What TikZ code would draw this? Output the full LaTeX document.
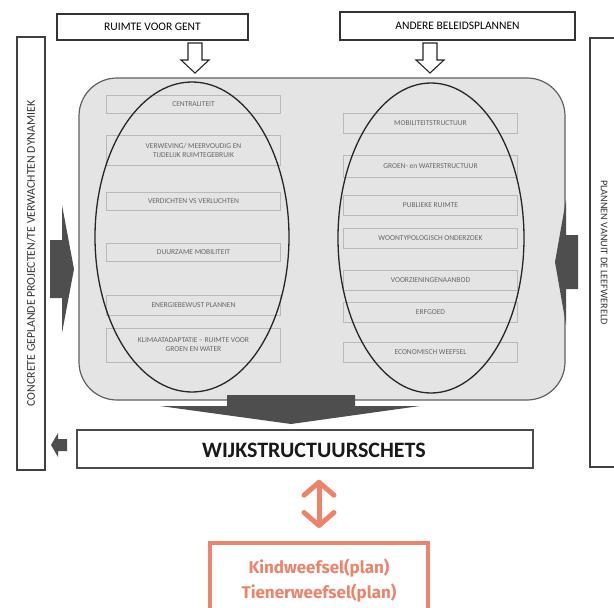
\documentclass[tikz,border=0pt]{standalone}
\usepackage{fontspec}
\setmainfont{Carlito}
\newfontfamily\planfont{Fira Sans}
\usetikzlibrary{positioning,arrows.meta}
\definecolor{salmon}{RGB}{237,131,106}
\definecolor{panelgray}{RGB}{228,228,228}
\definecolor{darkarrow}{RGB}{78,78,78}

\begin{document}
\begin{tikzpicture}[x=1pt, y=-1pt,
    topbox/.style={draw=black!80, line width=1.4pt, fill=white, font=\fontsize{11.5}{13}\selectfont},
    item/.style={draw=gray!55, line width=0.6pt, minimum width=174pt, text=black!60, font=\fontsize{7.5}{9}\selectfont, align=center, inner sep=1pt},
    sidebox/.style={draw=black!75, line width=1.4pt, text=black!80},
    hollow/.style={draw=black!85, line width=1.1pt, fill=white, line join=miter},
    focus/.style={draw=black!85, line width=1.3pt},
    updown/.style={salmon, line width=5pt, line cap=round, {Straight Barb[length=13pt, width=30pt, round]}-{Straight Barb[length=13pt, width=30pt, round]}}]
    \useasboundingbox (0,0) rectangle (614,608);
    \clip (0,0) rectangle (614,608);
    % sources on top
    \node[topbox, minimum width=191pt, minimum height=26pt] (ruimte) at (152.5,27) {RUIMTE VOOR GENT};
    \node[topbox, minimum width=235pt, minimum height=28pt] (andere) at (457.5,26) {ANDERE BELEIDSPLANNEN};
    % side columns
    \node[sidebox, rotate=90, minimum width=433pt, minimum height=28pt, font=\fontsize{11.8}{13}\selectfont] (concreet) at (31,253.5) {CONCRETE GEPLANDE PROJECTEN/TE VERWACHTEN DYNAMIEK};
    \node[sidebox, rotate=-90, minimum width=429pt, minimum height=28pt, font=\fontsize{10.2}{12}\selectfont] (leefwereld) at (604,252.5) {PLANNEN VANUIT DE LEEFWERELD};
    % grey panel
    \node[draw=gray!75!black, fill=panelgray, line width=1.2pt, rounded corners=38pt, minimum width=486pt, minimum height=322pt] (panel) at (322,239) {};
    % themes
    \node[item, minimum height=18pt] (centr) at (193.5,104) {CENTRALITEIT};
    \node[item, minimum height=30pt] (verw) at (193.5,150) {VERWEVING/ MEERVOUDIG EN\\TIJDELIJK RUIMTEGEBRUIK};
    \node[item, minimum height=18pt] (verd) at (193.5,201) {VERDICHTEN VS VERLUCHTEN};
    \node[item, minimum height=18pt] (mobi) at (193.5,252) {DUURZAME MOBILITEIT};
    \node[item, minimum height=20pt] (ener) at (193.5,305) {ENERGIEBEWUST PLANNEN};
    \node[item, minimum height=34pt] (klim) at (193.5,345) {KLIMAATADAPTATIE -- RUIMTE VOOR\\GROEN EN WATER};
    % other plans
    \node[item, minimum height=20pt] (mstr) at (430.5,123) {MOBILITEITSTRUCTUUR};
    \node[item, minimum height=22pt] (gstr) at (430.5,166) {GROEN- en WATERSTRUCTUUR};
    \node[item, minimum height=20pt] (publ) at (430.5,205) {PUBLIEKE RUIMTE};
    \node[item, minimum height=20pt] (woon) at (430.5,238) {WOONTYPOLOGISCH ONDERZOEK};
    \node[item, minimum height=20pt] (voor) at (430.5,280) {VOORZIENINGENAANBOD};
    \node[item, minimum height=20pt] (erf) at (430.5,312) {ERFGOED};
    \node[item, minimum height=20pt] (econ) at (430.5,352) {ECONOMISCH WEEFSEL};
    \draw[focus] (192,237) ellipse [x radius=97pt, y radius=155pt];
    \draw[focus] (431,238) ellipse [x radius=93pt, y radius=155pt];
    % hollow arrows
    \coordinate (inL) at (195,43);
    \coordinate (inR) at (430,43);
    \draw[hollow] (inL) ++(-7,0) -- ++(14,0) -- ++(0,17) -- ++(7,0) -- ++(-14,13) -- ++(-14,-13) -- ++(7,0) -- cycle;
    \draw[hollow] (inR) ++(-7,0) -- ++(14,0) -- ++(0,17) -- ++(7,0) -- ++(-14,13) -- ++(-14,-13) -- ++(7,0) -- cycle;
    % dark arrows
    \fill[darkarrow] (50,240) -- (62,240) -- (62,205) -- (74,269) -- (62,333) -- (62,298) -- (50,298) -- cycle;
    \fill[darkarrow] (578,235) -- (566,235) -- (566,200) -- (555,262) -- (566,325) -- (566,289) -- (578,289) -- cycle;
    \fill[darkarrow] (227,395) -- (355,395) -- (355,406) -- (420,406) -- (291,424) -- (160,406) -- (227,406) -- cycle;
    % result
    \node[draw=black!70, line width=1.5pt, minimum width=456pt, minimum height=38pt] (wijk) at (305,449) {};
    \node[font=\fontsize{22}{26}\selectfont\bfseries, text=black!90] (wijklabel) at (314,450) {WIJKSTRUCTUURSCHETS};
    \fill[darkarrow] (67,439) -- (58,439) -- (58,433) -- (51,445) -- (58,457) -- (58,451) -- (67,451) -- cycle;
    % link to child plans
    \node[draw=salmon, line width=3.5pt, minimum width=218pt, minimum height=75pt, anchor=north, text=salmon, font=\planfont\bfseries\fontsize{17}{25}\selectfont, align=center] (kind) at (319,541) {Kindweefsel(plan)\\Tienerweefsel(plan)};
    \path (wijk.south -| kind.north) ++(0,11) coordinate (ua);
    \path (kind.north) ++(0,-13) coordinate (ub);
    \draw[updown] (ua) -- (ub);
\end{tikzpicture}
\end{document}
